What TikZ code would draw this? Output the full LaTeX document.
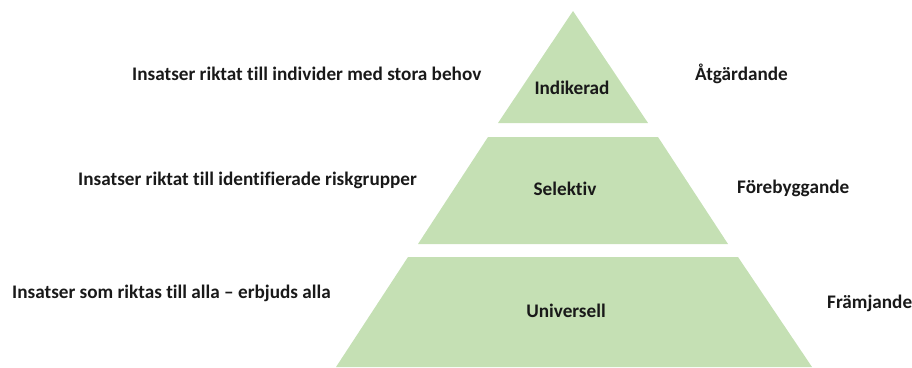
\documentclass[tikz,border=0pt]{standalone}
\usepackage{fontspec}
\setmainfont[Ligatures={NoCommon}]{Carlito}
\definecolor{layergreen}{HTML}{C5E0B4}
\begin{document}
\begin{tikzpicture}[x=1pt,y=-1pt,
  layer/.style={fill=layergreen,draw=none},
  lbl/.style={font=\bfseries\fontsize{19.2}{21}\selectfont,inner sep=0pt,text=black!90},
  leftlbl/.style={lbl,anchor=west},
  midlbl/.style={lbl,anchor=center}]
\useasboundingbox (0,0) rectangle (912,367);
% layers
\fill[layer] (573,11) coordinate (apex) -- (648,123) coordinate (t1r) -- (498,123) coordinate (t1l) -- cycle;
\fill[layer] (488,137) coordinate (t2tl) -- (658,137) coordinate (t2tr) -- (728,244) coordinate (t2br) -- (418,244) coordinate (t2bl) -- cycle;
\fill[layer] (408,257) coordinate (t3tl) -- (738,257) coordinate (t3tr) -- (812,367) coordinate (t3br) -- (336,367) coordinate (t3bl) -- cycle;
% centre labels
\node[midlbl] (ind) at (572,88) {Indikerad};
\node[midlbl] (sel) at (565,189) {Selektiv};
\node[midlbl] (uni) at (566,311) {Universell};
% left labels
\node[leftlbl] (l1) at (132,74) {Insatser riktat till individer med stora behov};
\node[leftlbl] (l2) at (78,180) {Insatser riktat till identifierade riskgrupper};
\node[leftlbl] (l3) at (12,293) {Insatser som riktas till alla – erbjuds alla};
% right labels
\node[leftlbl] (r1) at (695,74) {Åtgärdande};
\node[leftlbl] (r2) at (737,188) {Förebyggande};
\node[leftlbl] (r3) at (827,303) {Främjande};
\end{tikzpicture}
\end{document}
